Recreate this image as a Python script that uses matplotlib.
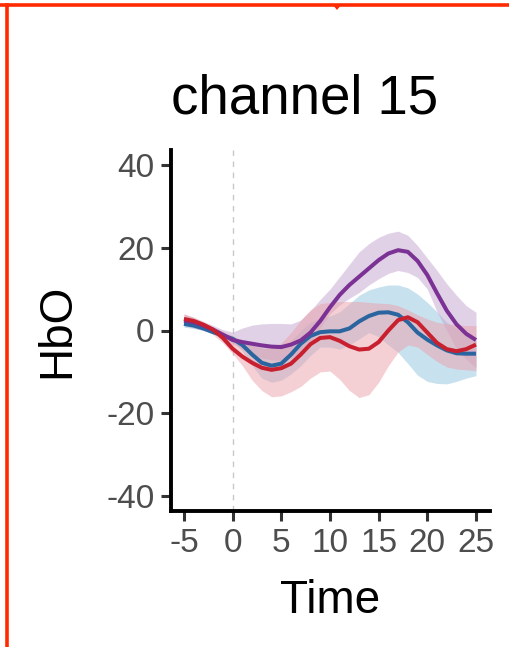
import matplotlib
matplotlib.use("Agg")
import matplotlib.pyplot as plt
from matplotlib.lines import Line2D
from matplotlib.patches import Polygon

plt.rcParams['font.family'] = ['Liberation Sans', 'DejaVu Sans']
plt.rcParams['axes.unicode_minus'] = False

# time axis (s), one reading per second
time = list(range(-5, 26))

# group means and ribbon bounds
purple_mean = [2.4, 2.0, 1.2, 0.2, -1.0, -2.3, -2.8, -3.2, -3.6, -3.9, -4.0, -3.4, -2.4, -0.5, 2.3, 5.6,
               8.6, 11.0, 13.0, 15.0, 17.0, 18.6, 19.4, 19.0, 16.8, 13.4, 9.0, 4.8, 1.5, -0.8, -2.3]
purple_hi = [4.0, 3.2, 2.2, 1.2, 0.2, -0.4, 0.6, 1.3, 1.6, 1.7, 1.7, 1.6, 2.5, 4.8, 7.5, 10.0,
             13.0, 16.0, 19.0, 21.0, 22.5, 23.5, 24.0, 23.0, 20.5, 17.5, 14.5, 11.3, 8.5, 6.0, 4.4]
purple_lo = [1.2, 0.6, 0.0, -0.8, -2.0, -3.2, -4.5, -5.8, -6.6, -7.1, -7.3, -6.6, -5.3, -2.8, 0.6, 4.0,
             6.2, 7.8, 9.2, 11.0, 12.5, 13.8, 14.5, 14.0, 12.8, 10.0, 4.5, 0.0, -4.5, -7.0, -8.9]

blue_mean = [1.6, 1.2, 0.5, -0.4, -1.2, -2.0, -3.5, -5.8, -7.8, -8.5, -8.0, -5.8, -3.2, -1.3, -0.4, -0.2,
             -0.2, 0.5, 2.2, 3.5, 4.3, 4.4, 3.8, 2.0, -0.5, -2.2, -3.6, -4.8, -5.5, -5.6, -5.6]
blue_hi = [2.4, 1.8, 1.0, 0.0, -0.8, -1.6, -2.5, -3.5, -4.2, -4.5, -4.0, -2.5, 0.0, 2.0, 3.0, 3.5,
           4.5, 6.5, 8.5, 9.8, 10.5, 11.0, 11.0, 10.3, 8.8, 6.8, 4.5, 2.0, 0.5, -1.2, -2.4]
blue_lo = [0.8, 0.5, 0.0, -0.8, -1.6, -2.5, -5.0, -8.5, -11.5, -12.5, -12.0, -10.5, -8.5, -6.0, -4.0, -4.0,
           -4.5, -3.5, -2.0, -0.5, -1.5, -3.5, -5.3, -8.0, -10.8, -12.3, -12.8, -12.9, -12.3, -11.5, -10.9]

red_mean = [2.8, 2.3, 1.4, 0.2, -1.8, -4.4, -6.3, -7.8, -9.0, -9.5, -9.1, -8.0, -5.8, -3.3, -1.8, -1.6,
            -2.5, -3.8, -4.6, -4.4, -2.8, 0.0, 2.5, 3.2, 2.0, -0.5, -3.0, -4.5, -5.0, -4.5, -3.4]
red_hi = [4.0, 3.2, 2.0, 0.8, -0.3, -1.2, -2.5, -3.5, -4.2, -4.2, -3.0, -0.5, 2.5, 5.0, 6.5, 6.8,
          7.0, 7.0, 7.0, 6.8, 6.6, 6.5, 6.0, 5.0, 3.8, 2.8, 2.0, 1.6, 1.4, 1.2, 1.2]
red_lo = [2.0, 1.5, 0.5, -1.0, -3.0, -5.6, -8.5, -12.0, -14.5, -16.0, -15.8, -14.8, -13.5, -11.5, -10.0, -9.8,
          -11.8, -14.5, -16.2, -15.5, -12.5, -8.5, -5.2, -3.5, -4.0, -5.8, -7.5, -8.8, -9.3, -9.5, -9.7]

x_ticks = [-5, 0, 5, 10, 15, 20, 25]
y_ticks = [-40, -20, 0, 20, 40]

W, H = 509, 647
fig = plt.figure(figsize=(W / 100, H / 100), dpi=100)
ax = fig.add_axes([171.3 / W, 1 - 511 / H, (489.6 - 171.3) / W, (511 - 150) / H])

groups = [
    (blue_mean, blue_lo, blue_hi, '#2b65a0', '#92c5de'),
    (purple_mean, purple_lo, purple_hi, '#7b3294', '#c2a5cf'),
    (red_mean, red_lo, red_hi, '#c8202e', '#eba1ab'),
]
for mean, lo, hi, line_col, fill_col in groups:
    ax.fill_between(time, lo, hi, color=fill_col, alpha=0.5, lw=0)
for mean, lo, hi, line_col, fill_col in groups:
    ax.plot(time, mean, color=line_col, lw=2.9, solid_capstyle='butt', solid_joinstyle='round')

ax.axvline(0, color='#c8c8c8', lw=1.0, ls=(0, (4, 4)), zorder=0)

ax.set_xlim(-6.3, 26.4)
ax.set_ylim(-43.6, 43.6)
ax.set_xticks(x_ticks)
ax.set_yticks(y_ticks)
ax.set_xticklabels([str(v) for v in x_ticks])
ax.set_yticklabels([str(v) for v in y_ticks])

for s in ['top', 'right']:
    ax.spines[s].set_visible(False)
for s in ['left', 'bottom']:
    ax.spines[s].set_linewidth(2.8)
    ax.spines[s].set_color('black')
ax.tick_params(axis='both', length=7, width=2.2, color='#333333', labelsize=24,
               labelcolor='#4d4d4d', pad=5)

fig.text(305 / W, 1 - 113 / H, 'channel 15', fontsize=39.3, ha='center', va='baseline')
fig.text(330 / W, 1 - 613 / H, 'Time', fontsize=33, ha='center', va='baseline')
fig.text(57 / W, 1 - 331 / H, 'HbO', fontsize=33, rotation=90, ha='center', va='center')

# red frame around the panel
frame_col = '#ff2a00'
fig.add_artist(Line2D([0, 1], [1 - 5 / H, 1 - 5 / H], transform=fig.transFigure,
                      color=frame_col, lw=2.6))
fig.add_artist(Line2D([6.5 / W, 6.5 / W], [0, 1 - 5 / H], transform=fig.transFigure,
                      color=frame_col, lw=2.6))
fig.add_artist(Polygon([[333 / W, 1 - 5 / H], [341 / W, 1 - 5 / H], [337 / W, 1 - 10 / H]],
                       closed=True, transform=fig.transFigure, color=frame_col, lw=0))

fig.savefig('out.png', dpi=100)
